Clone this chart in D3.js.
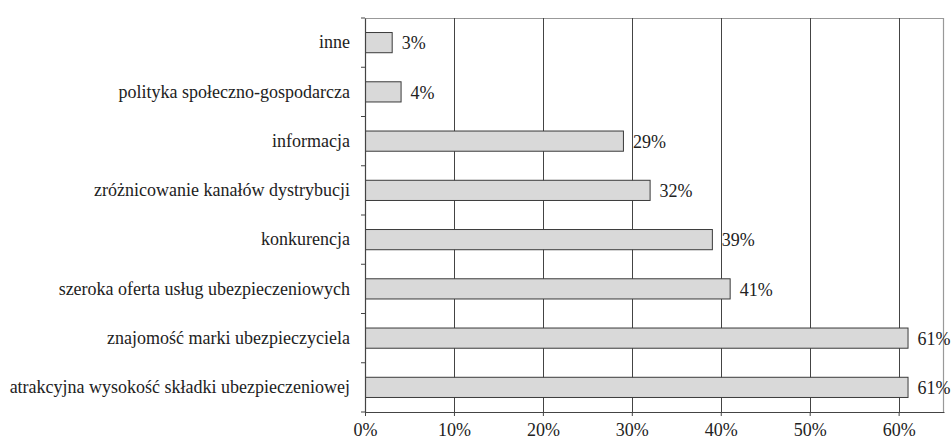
<!DOCTYPE html>
<html>
<head>
<meta charset="utf-8">
<script src="https://cdn.jsdelivr.net/npm/d3@7"></script>
<style>
  body { margin: 0; background: #fff; }
</style>
</head>
<body>
<div id="chart"></div>
<script>
// categories top -> bottom
const CATEGORIES = [
    'inne',
    'polityka społeczno-gospodarcza',
    'informacja',
    'zróżnicowanie kanałów dystrybucji',
    'konkurencja',
    'szeroka oferta usług ubezpieczeniowych',
    'znajomość marki ubezpieczyciela',
    'atrakcyjna wysokość składki ubezpieczeniowej'
];

// share of answers, percent
const VALUES = [3, 4, 29, 32, 39, 41, 61, 61];

const X_TICKS = [0, 10, 20, 30, 40, 50, 60];

const FONT = "'Liberation Serif', 'Times New Roman', serif";

let margin = {top: 18, right: 7, bottom: 28, left: 365};
let width = 951 - margin.left - margin.right;
let height = 440 - margin.top - margin.bottom;

let svg = d3.select('#chart').append('svg')
    .attr('width', 951)
    .attr('height', 440)
    .append('g')
    .attr('transform', 'translate(' + margin.left + ',' + margin.top + ')');

let x = d3.scaleLinear().domain([0, 65.1]).range([0, width]);
let y = d3.scaleBand().domain(CATEGORIES).range([0, height]).paddingInner(0.59).paddingOuter(0.295);

// plot frame (top + right)
svg.append('path')
    .attr('d', 'M0,0.5H' + (width - 0.5) + 'V' + height)
    .attr('fill', 'none')
    .attr('stroke', '#999')
    .attr('stroke-width', 1.2);

// vertical gridlines
svg.append('g')
    .selectAll('line')
    .data(X_TICKS.slice(1))
    .join('line')
    .attr('x1', d => Math.round(x(d)) + 0.5)
    .attr('x2', d => Math.round(x(d)) + 0.5)
    .attr('y1', 0)
    .attr('y2', height)
    .attr('stroke', '#444')
    .attr('stroke-width', 1);

// bars
svg.append('g')
    .selectAll('rect')
    .data(VALUES)
    .join('rect')
    .attr('x', 0.5)
    .attr('y', (d, i) => y(CATEGORIES[i]))
    .attr('width', d => x(d))
    .attr('height', y.bandwidth())
    .attr('fill', '#d9d9d9')
    .attr('stroke', '#3a3a3a')
    .attr('stroke-width', 1);

// value labels
svg.append('g')
    .selectAll('text')
    .data(VALUES)
    .join('text')
    .attr('x', d => x(d) + 10)
    .attr('y', (d, i) => y(CATEGORIES[i]) + y.bandwidth() / 2)
    .attr('dy', '0.38em')
    .style('font-family', FONT)
    .style('font-size', '18px')
    .style('fill', '#222')
    .text(d => d + '%');

// x axis
let xAxis = svg.append('g')
    .attr('transform', 'translate(0,' + height + ')')
    .call(d3.axisBottom(x).tickValues(X_TICKS).tickFormat(d => d + '%').tickSize(4).tickSizeOuter(0));
xAxis.select('.domain').attr('stroke', '#444').attr('stroke-width', 1.2);
xAxis.selectAll('.tick line').attr('stroke', '#444');
xAxis.selectAll('.tick text')
    .attr('y', 11)
    .style('font-family', FONT)
    .style('font-size', '18px')
    .style('fill', '#222');

// y axis: ticks sit on band boundaries
let yAxis = svg.append('g')
    .call(d3.axisLeft(y).tickSize(0).tickPadding(15));
yAxis.select('.domain').attr('stroke', '#444').attr('stroke-width', 1.2);
yAxis.selectAll('.tick text')
    .style('font-family', FONT)
    .style('font-size', '18px')
    .style('fill', '#222');

let step = height / CATEGORIES.length;
yAxis.append('g')
    .selectAll('line')
    .data(d3.range(CATEGORIES.length + 1))
    .join('line')
    .attr('x1', -4)
    .attr('x2', 0)
    .attr('y1', d => d * step)
    .attr('y2', d => d * step)
    .attr('stroke', '#444');
</script>
</body>
</html>
